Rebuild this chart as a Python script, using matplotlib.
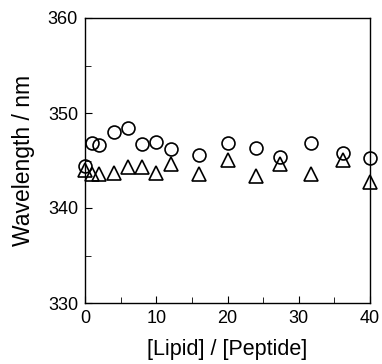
import matplotlib
matplotlib.use("Agg")
import matplotlib.pyplot as plt
from matplotlib.ticker import MultipleLocator

plt.rcParams['font.family'] = ['Liberation Sans', 'DejaVu Sans']

ratio_circ = [0, 1, 2, 4, 6, 8, 10, 12, 16, 20, 24, 27.3, 31.7, 36.2, 40]
wl_circ = [344.45, 346.8, 346.6, 348.0, 348.4, 346.7, 347.0, 346.2, 345.6, 346.8, 346.35, 345.4, 346.8, 345.75, 345.3]

ratio_tri = [0, 1, 2, 4, 6, 8, 10, 12, 16, 20, 24, 27.3, 31.7, 36.2, 40]
wl_tri = [344.0, 343.6, 343.6, 343.65, 344.35, 344.35, 343.7, 344.6, 343.55, 345.1, 343.4, 344.65, 343.55, 345.1, 342.7]

fig = plt.figure(figsize=(3.82, 3.64), dpi=100)
ax = fig.add_axes([85/382, 1 - 303/364, 285/382, 285/364])

ax.plot(ratio_circ, wl_circ, linestyle='none', marker='o', markersize=9.3,
        markerfacecolor='none', markeredgecolor='black', markeredgewidth=1.2, clip_on=False)
ax.plot(ratio_tri, wl_tri, linestyle='none', marker='^', markersize=10.5,
        markerfacecolor='none', markeredgecolor='black', markeredgewidth=1.2, clip_on=False)

ax.set_xlim(0, 40)
ax.set_ylim(330, 360)
ax.xaxis.set_major_locator(MultipleLocator(10))
ax.xaxis.set_minor_locator(MultipleLocator(5))
ax.yaxis.set_major_locator(MultipleLocator(10))
ax.yaxis.set_minor_locator(MultipleLocator(5))
ax.tick_params(which='both', direction='in', labelsize=13, top=False, right=False, pad=5)
ax.tick_params(which='major', length=5)
ax.tick_params(which='minor', length=4)
for s in ax.spines.values():
    s.set_linewidth(1.0)

ax.set_xlabel('[Lipid] / [Peptide]', fontsize=15.5)
ax.set_ylabel('Wavelength / nm', fontsize=16.5)
ax.xaxis.set_label_coords(0.5, -0.125)
ax.yaxis.set_label_coords(-0.175, 0.5)

fig.savefig('out.png', dpi=100)
